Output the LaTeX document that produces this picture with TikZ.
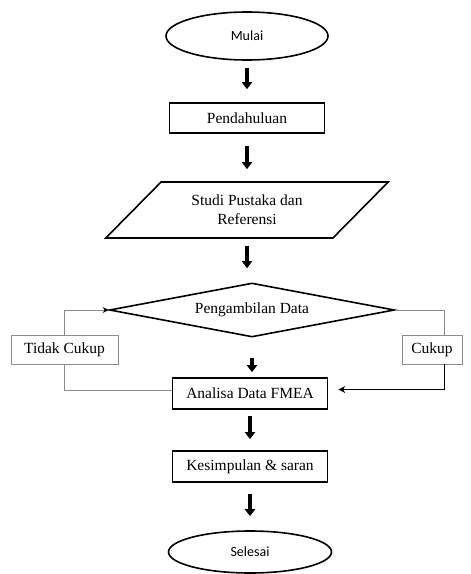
\documentclass[tikz,border=0pt]{standalone}
\usepackage{fontspec}
\setmainfont{Liberation Serif}
\newfontfamily\calibri{Carlito}
\usetikzlibrary{shapes.geometric,arrows.meta}

\begin{document}
\begin{tikzpicture}[auto,font=\fontsize{15.5}{19}\selectfont,
		kotak/.style={draw,line width=1.6pt,minimum width=155pt,minimum height=30pt,inner sep=2pt},
		oval/.style={draw,ellipse,line width=1.6pt,minimum width=162pt,minimum height=48pt,font=\calibri\fontsize{14}{16}\selectfont},
		ket/.style={draw=gray!90,line width=0.8pt,minimum height=29pt,inner sep=2pt},
		panah/.style={-{Triangle[width=10pt,length=7pt]},line width=3.5pt},
		garis/.style={draw=gray!90,line width=0.8pt}]
		\useasboundingbox (0pt,0pt) rectangle (471pt,-574pt);
		% alur utama
		\node (M) [oval] at (247pt,-36pt) {Mulai};
		\node (P) [kotak,node distance=82pt,below of=M] {Pendahuluan};
		\node (S) [draw,trapezium,trapezium left angle=44,trapezium right angle=136,trapezium stretches=true,
			minimum width=283pt,minimum height=56pt,line width=1.6pt,align=center,node distance=92pt,below of=P] {Studi Pustaka dan\\Referensi};
		\node (D) [draw,diamond,aspect=5,minimum width=285pt,minimum height=54pt,inner sep=0pt,line width=1.6pt,
			node distance=100pt,below of=S,xshift=5pt] {Pengambilan Data};
		\node (A) [kotak,minimum height=31pt,node distance=83.5pt,below of=D,xshift=-2pt] {Analisa Data FMEA};
		\node (K) [kotak,minimum height=31pt,node distance=73pt,below of=A] {Kesimpulan \& saran};
		\node (E) [oval,minimum width=163pt,minimum height=42pt,node distance=85.5pt,below of=K] {Selesai};
		% keputusan
		\node (TC) [ket,minimum width=107pt,node distance=185.5pt,left of=A,yshift=44pt] {Tidak Cukup};
		\node (C) [ket,minimum width=60pt,node distance=182pt,right of=A,yshift=44pt] {Cukup};
		\draw[panah,shorten <=7pt,shorten >=13pt] (M.south) -- (M.south |- P.north);
		\draw[panah,shorten <=12pt,shorten >=12pt] (P.south) -- (P.south |- S.north);
		\draw[panah,shorten <=7pt,shorten >=14pt] (S.south) -- (S.south |- D.north);
		\draw[panah,shorten <=20pt,shorten >=5pt] (D.south) -- (D.south |- A.north);
		\draw[panah,shorten <=6pt,shorten >=11pt] (A.south) -- (A.south |- K.north);
		\draw[panah,shorten <=11pt,shorten >=14pt] (K.south) -- (K.south |- E.north);
		\draw[garis,-{Stealth[black,width=6pt,length=6pt]}] (TC.north) |- (D.west);
		\draw[garis] (TC.south) |- ([yshift=3pt]A.west);
		\draw[garis] (D.east) -| ([xshift=12pt]C.north);
		\draw[line width=1pt,-{Stealth[width=7pt,length=7pt]}] ([xshift=12pt]C.south) |- ([xshift=10pt,yshift=4pt]A.east);
\end{tikzpicture}
\end{document}
